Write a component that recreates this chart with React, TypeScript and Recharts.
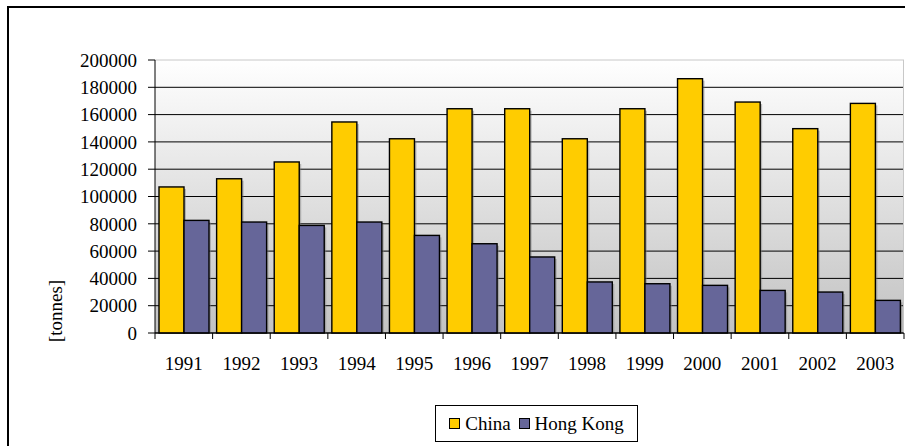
import { BarChart, Bar, XAxis, YAxis, CartesianGrid } from "recharts";

const YEARS = ["1991", "1992", "1993", "1994", "1995", "1996", "1997", "1998", "1999", "2000", "2001", "2002", "2003"];
const CHINA = [107000, 113000, 125300, 154600, 142300, 164300, 164300, 142300, 164300, 186300, 169200, 149700, 168200];
const HONG_KONG = [82500, 81300, 78800, 81300, 71500, 65400, 55700, 37400, 36100, 34900, 31200, 30000, 23900];
const Y_TICKS = [0, 20000, 40000, 60000, 80000, 100000, 120000, 140000, 160000, 180000, 200000];
const SERIES = [
  { key: "china", name: "China", color: "#FFCC00" },
  { key: "hk", name: "Hong Kong", color: "#666699" },
];

const FONT = "'Liberation Serif', 'Times New Roman', serif";
const W = 905;
const H = 446;
const PLOT_LEFT = 155;
const PLOT_RIGHT_MARGIN = 1;
const BAND = (W - PLOT_LEFT - PLOT_RIGHT_MARGIN) / YEARS.length;

const data = YEARS.map((year, i) => ({ year, china: CHINA[i], hk: HONG_KONG[i] }));

// bar with a faint drop shadow, like the old office chart
function ShadowBar(props: any) {
  const { x, y, width, height, fill } = props;
  if (!height || height <= 0) return null;
  return (
    <g>
      <rect x={x + 2} y={y + 2} width={width} height={height - 2} fill="#7a7a7a" fillOpacity={0.45} />
      <rect x={x} y={y} width={width} height={height} fill={fill} stroke="#000" strokeWidth={1.4} />
    </g>
  );
}

function YearTick(props: any) {
  const { x, y, payload, index } = props;
  const last = index === YEARS.length - 1;
  return (
    <g>
      <line x1={x - BAND / 2} y1={y} x2={x - BAND / 2} y2={y + 6} stroke="#000" />
      {last && <line x1={x + BAND / 2} y1={y} x2={x + BAND / 2} y2={y + 6} stroke="#000" />}
      <text x={x} y={y + 37} textAnchor="middle" fontFamily={FONT} fontSize={19} fill="#000">
        {payload.value}
      </text>
    </g>
  );
}

function GridLine(props: any) {
  const { x1, x2, y1, y2, index } = props;
  const top = y1 < 62;
  return (
    <line key={`g${index}`} x1={x1} x2={x2} y1={y1} y2={y2} stroke={top ? "#c8c8c8" : "#000"} strokeWidth={1} />
  );
}

export default function App() {
  return (
    <div style={{ position: "relative", width: W, height: H, overflow: "hidden", background: "#fff" }}>
      <style>{"body{margin:0;overflow:hidden}"}</style>
      <div
        style={{
          position: "absolute", left: 7, top: 6, width: 1000, height: 1000,
          border: "2px solid #000", boxSizing: "border-box",
        }}
      />
      <div style={{ position: "absolute", left: 0, top: 0 }}>
        <BarChart
          width={W}
          height={H}
          data={data}
          margin={{ top: 60, right: PLOT_RIGHT_MARGIN, left: 0, bottom: 73 }}
          barGap={0}
          barSize={25}
        >
          <defs>
            <linearGradient id="plotBg" x1="0" y1="0" x2="0" y2="1">
              <stop offset="0%" stopColor="#ffffff" />
              <stop offset="100%" stopColor="#c2c2c2" />
            </linearGradient>
          </defs>
          <CartesianGrid
            fill="url(#plotBg)"
            fillOpacity={1}
            horizontal={GridLine}
            stroke="#c8c8c8"
            verticalCoordinatesGenerator={({ offset }: any) => [offset.left + offset.width - 0.5]}
          />
          <XAxis
            dataKey="year"
            height={40}
            tickSize={0}
            tickMargin={0}
            tickLine={false}
            axisLine={{ stroke: "#000" }}
            tick={YearTick}
            interval={0}
          />
          <YAxis
            width={PLOT_LEFT}
            domain={[0, 200000]}
            ticks={Y_TICKS}
            interval={0}
            tickSize={7}
            tickMargin={11}
            axisLine={{ stroke: "#000" }}
            tickLine={{ stroke: "#000" }}
            tick={{ fontFamily: FONT, fontSize: 19, fill: "#000" }}
            label={{
              content: () => (
                <text
                  x={0}
                  y={0}
                  transform="translate(62 311) rotate(-90)"
                  textAnchor="middle"
                  fontFamily={FONT}
                  fontSize={19}
                  fill="#000"
                >
                  [tonnes]
                </text>
              ),
            }}
          />
          {SERIES.map((s) => (
            <Bar key={s.key} dataKey={s.key} name={s.name} fill={s.color} shape={ShadowBar} isAnimationActive={false} />
          ))}
        </BarChart>
      </div>
      <div
        style={{
          position: "absolute", left: 435, top: 405, width: 203, height: 37,
          border: "1px solid #000", boxSizing: "border-box", background: "#fff",
          display: "flex", alignItems: "center", justifyContent: "center", gap: 8,
          fontFamily: FONT, fontSize: 19, color: "#000",
        }}
      >
        {SERIES.map((s) => (
          <span key={s.key} style={{ display: "flex", alignItems: "center", gap: 5 }}>
            <span style={{ width: 11, height: 11, background: s.color, border: "1px solid #000", boxSizing: "border-box", display: "inline-block" }} />
            {s.name}
          </span>
        ))}
      </div>
    </div>
  );
}
